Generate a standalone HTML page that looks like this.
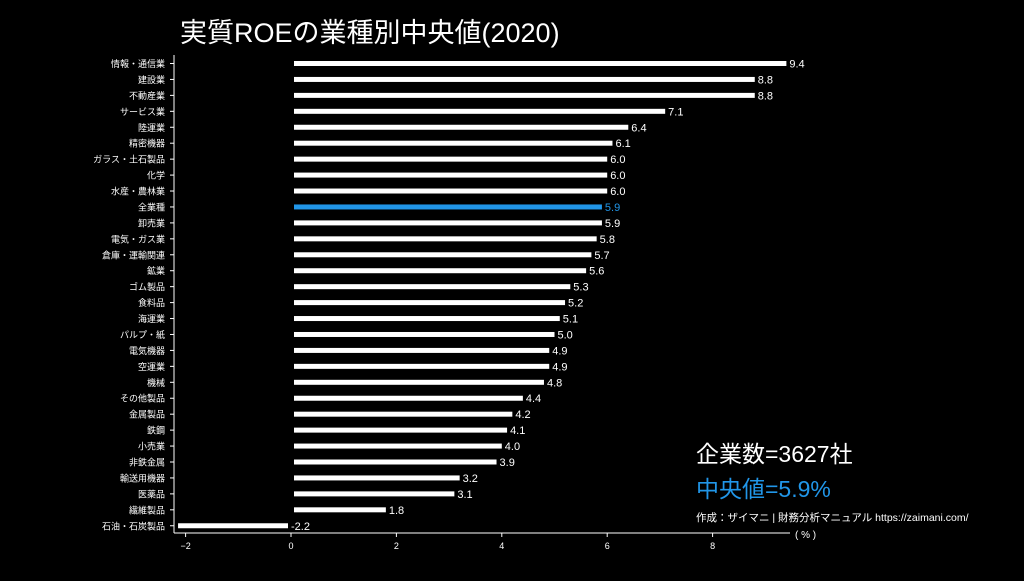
<!DOCTYPE html>
<html><head><meta charset="utf-8"><style>
html,body{margin:0;padding:0;background:#000;}
body{width:1024px;height:576px;overflow:hidden;font-family:"Liberation Sans","Noto Sans CJK JP",sans-serif;}
</style></head><body>
<svg id="chart" width="1024" height="576" xmlns="http://www.w3.org/2000/svg" style="font-family:'Liberation Sans','Noto Sans CJK JP',sans-serif">
<rect width="1024" height="576" fill="#000"/>
<text x="180" y="42" fill="#fff" font-size="27">実質ROEの業種別中央値(2020)</text>
<g id="axes"></g>
<g id="bars"></g>
<text x="696" y="462" fill="#fff" font-size="23">企業数=3627社</text>
<text x="696" y="497" fill="#2196e8" font-size="23">中央値=5.9%</text>
<text x="696" y="521" fill="#fff" font-size="10.5">作成：ザイマニ | 財務分析マニュアル https://zaimani.com/</text>
<text x="795" y="538" fill="#fff" font-size="10">( % )</text>
</svg>
<script>
const categories=["情報・通信業","建設業","不動産業","サービス業","陸運業","精密機器","ガラス・土石製品","化学","水産・農林業","全業種","卸売業","電気・ガス業","倉庫・運輸関連","鉱業","ゴム製品","食料品","海運業","パルプ・紙","電気機器","空運業","機械","その他製品","金属製品","鉄鋼","小売業","非鉄金属","輸送用機器","医薬品","繊維製品","石油・石炭製品"];
const values=[9.4,8.8,8.8,7.1,6.4,6.1,6.0,6.0,6.0,5.9,5.9,5.8,5.7,5.6,5.3,5.2,5.1,5.0,4.9,4.9,4.8,4.4,4.2,4.1,4.0,3.9,3.2,3.1,1.8,-2.2];
const xTicks=[-2,0,2,4,6,8];
const highlight="全業種";
const NS="http://www.w3.org/2000/svg";
const x0=291,ux=52.7;
const X=v=>x0+v*ux;
const Y=i=>63.5+i*15.94;
function mk(tag,attrs,parent,text){const e=document.createElementNS(NS,tag);for(const k in attrs)e.setAttribute(k,attrs[k]);if(text!==undefined)e.textContent=text;parent.appendChild(e);return e;}
const axes=document.getElementById('axes'),bars=document.getElementById('bars');
const ls=mk('line',{x1:174,y1:55,x2:174,y2:533,stroke:'#fff','stroke-width':1},axes);


const bs=mk('line',{x1:174,y1:533,x2:790,y2:533,stroke:'#fff','stroke-width':1},axes);


xTicks.forEach(t=>{
  const tk=mk('line',{x1:X(t),y1:533,x2:X(t),y2:537,stroke:'#fff'},axes);
  
  
  const tl=mk('text',{x:X(t),y:549,fill:'#fff','font-size':9,'text-anchor':'middle'},axes,t<0?'−'+Math.abs(t):String(t));
  
  
});
categories.forEach((c,i)=>{
  const v=values[i],y=Y(i);
  const col=c===highlight?'#2196e8':'#fff';
  const tk=mk('line',{x1:170,y1:y,x2:174,y2:y,stroke:'#fff'},axes);
  
  
  const lb=mk('text',{x:165,y:y+3.5,fill:'#fff','font-size':9,'text-anchor':'end'},axes,c);
  
  
  const a=v>=0?X(0)+3:X(v)+3,b=v>=0?X(v):X(0)-3;
  const r=mk('rect',{x:a,y:y-2.5,width:Math.max(0,b-a),height:5,fill:col},bars);
  
  
  const vl=mk('text',{x:Math.max(X(v),X(0))+3,y:y+4,fill:col,'font-size':11},bars,v.toFixed(1));
  if(v<0)vl.setAttribute('x',X(0)+0);
  
  
});
</script>
</body></html>
